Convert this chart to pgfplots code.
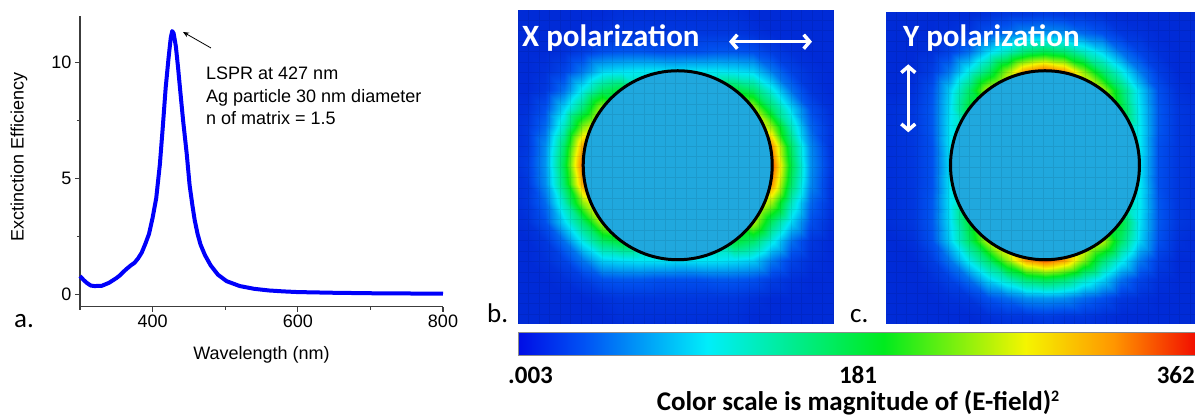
\documentclass[border=0pt]{standalone}
\usepackage{pgfplots}
\pgfplotsset{compat=1.18}
\usepackage{pgfplotstable}
\usepackage{fontspec}
\setmainfont{Liberation Sans}
\newfontfamily\calibri{Carlito}
\usetikzlibrary{arrows.meta}

\definecolor{axisgray}{RGB}{60,60,60}
\definecolor{insidecol}{RGB}{32,168,222}
\definecolor{curveblue}{RGB}{0,0,250}

\pgfplotsset{colormap={fieldjet}{rgb255(0cm)=(0,18,200); rgb255(10cm)=(0,80,238); rgb255(28cm)=(0,232,245); rgb255(54cm)=(0,235,30); rgb255(75cm)=(245,245,0); rgb255(88cm)=(255,150,0); rgb255(100cm)=(235,25,0)}}

\pgfdeclarehorizontalshading{cbar}{100bp}{rgb(0bp)=(0,0.05,0.9); rgb(25bp)=(0,0.05,0.9); rgb(30bp)=(0,0.33,0.96); rgb(39bp)=(0,0.933,0.98); rgb(52bp)=(0,0.92,0.118); rgb(62.5bp)=(0.96,0.96,0); rgb(69bp)=(1,0.588,0); rgb(75bp)=(0.95,0.06,0); rgb(100bp)=(0.95,0.06,0)}

\pgfplotstableread{
wl ext
300 0.79
305 0.62
310 0.48
315 0.38
320 0.36
330 0.37
340 0.50
350 0.70
355 0.82
360 0.98
365 1.12
370 1.25
375 1.36
380 1.55
385 1.80
390 2.18
395 2.60
400 3.30
405 4.15
410 5.60
414 7.20
418 8.90
422 10.20
425 11.05
427 11.35
429 11.25
432 10.70
435 9.80
438 8.80
442 7.50
447 6.06
451 4.70
455 3.80
458 3.20
462 2.60
466 2.15
472 1.70
480 1.25
490 0.85
502 0.57
520 0.36
540 0.24
560 0.17
580 0.13
600 0.10
650 0.07
700 0.05
750 0.04
800 0.03
}\spectab

\pgfplotstableread[row sep=\\]{
x y c\\
-1.8 -1.8 0.04\\-1.6 -1.8 0.04\\-1.4 -1.8 0.04\\-1.2 -1.8 0.04\\-1 -1.8 0.04\\-0.8 -1.8 0.04\\-0.6 -1.8 0.04\\-0.4 -1.8 0.04\\-0.2 -1.8 0.04\\0 -1.8 0.04\\0.2 -1.8 0.04\\0.4 -1.8 0.04\\0.6 -1.8 0.04\\0.8 -1.8 0.04\\1 -1.8 0.04\\1.2 -1.8 0.04\\1.4 -1.8 0.04\\1.6 -1.8 0.04\\1.8 -1.8 0.04\\
-1.8 -1.6 0.04\\-1.6 -1.6 0.04\\-1.4 -1.6 0.04\\-1.2 -1.6 0.04\\-1 -1.6 0.04\\-0.8 -1.6 0.04\\-0.6 -1.6 0.05\\-0.4 -1.6 0.05\\-0.2 -1.6 0.05\\0 -1.6 0.05\\0.2 -1.6 0.05\\0.4 -1.6 0.05\\0.6 -1.6 0.05\\0.8 -1.6 0.04\\1 -1.6 0.04\\1.2 -1.6 0.04\\1.4 -1.6 0.04\\1.6 -1.6 0.04\\1.8 -1.6 0.04\\
-1.8 -1.4 0.04\\-1.6 -1.4 0.04\\-1.4 -1.4 0.04\\-1.2 -1.4 0.04\\-1 -1.4 0.04\\-0.8 -1.4 0.05\\-0.6 -1.4 0.06\\-0.4 -1.4 0.06\\-0.2 -1.4 0.06\\0 -1.4 0.06\\0.2 -1.4 0.06\\0.4 -1.4 0.06\\0.6 -1.4 0.06\\0.8 -1.4 0.05\\1 -1.4 0.04\\1.2 -1.4 0.04\\1.4 -1.4 0.04\\1.6 -1.4 0.04\\1.8 -1.4 0.04\\
-1.8 -1.2 0.04\\-1.6 -1.2 0.04\\-1.4 -1.2 0.04\\-1.2 -1.2 0.05\\-1 -1.2 0.07\\-0.8 -1.2 0.10\\-0.6 -1.2 0.11\\-0.4 -1.2 0.11\\-0.2 -1.2 0.10\\0 -1.2 0.10\\0.2 -1.2 0.10\\0.4 -1.2 0.11\\0.6 -1.2 0.11\\0.8 -1.2 0.10\\1 -1.2 0.07\\1.2 -1.2 0.05\\1.4 -1.2 0.04\\1.6 -1.2 0.04\\1.8 -1.2 0.04\\
-1.8 -1 0.04\\-1.6 -1 0.04\\-1.4 -1 0.05\\-1.2 -1 0.08\\-1 -1 0.15\\-0.8 -1 0.25\\-0.6 -1 0.27\\-0.4 -1 0.28\\-0.2 -1 0.28\\0 -1 0.27\\0.2 -1 0.28\\0.4 -1 0.28\\0.6 -1 0.27\\0.8 -1 0.25\\1 -1 0.15\\1.2 -1 0.08\\1.4 -1 0.05\\1.6 -1 0.04\\1.8 -1 0.04\\
-1.8 -0.8 0.04\\-1.6 -0.8 0.04\\-1.4 -0.8 0.06\\-1.2 -0.8 0.14\\-1 -0.8 0.30\\-0.8 -0.8 0.45\\-0.6 -0.8 0.51\\-0.4 -0.8 0.40\\-0.2 -0.8 0.31\\0 -0.8 0.27\\0.2 -0.8 0.31\\0.4 -0.8 0.40\\0.6 -0.8 0.51\\0.8 -0.8 0.45\\1 -0.8 0.30\\1.2 -0.8 0.14\\1.4 -0.8 0.06\\1.6 -0.8 0.04\\1.8 -0.8 0.04\\
-1.8 -0.6 0.04\\-1.6 -0.6 0.05\\-1.4 -0.6 0.10\\-1.2 -0.6 0.26\\-1 -0.6 0.45\\-0.8 -0.6 0.70\\-0.6 -0.6 0.61\\-0.4 -0.6 0.48\\-0.2 -0.6 0.34\\0 -0.6 0.27\\0.2 -0.6 0.34\\0.4 -0.6 0.48\\0.6 -0.6 0.61\\0.8 -0.6 0.70\\1 -0.6 0.45\\1.2 -0.6 0.26\\1.4 -0.6 0.10\\1.6 -0.6 0.05\\1.8 -0.6 0.04\\
-1.8 -0.4 0.04\\-1.6 -0.4 0.06\\-1.4 -0.4 0.13\\-1.2 -0.4 0.35\\-1 -0.4 0.66\\-0.8 -0.4 0.81\\-0.6 -0.4 0.74\\-0.4 -0.4 0.61\\-0.2 -0.4 0.40\\0 -0.4 0.27\\0.2 -0.4 0.40\\0.4 -0.4 0.61\\0.6 -0.4 0.74\\0.8 -0.4 0.81\\1 -0.4 0.66\\1.2 -0.4 0.35\\1.4 -0.4 0.13\\1.6 -0.4 0.06\\1.8 -0.4 0.04\\
-1.8 -0.2 0.04\\-1.6 -0.2 0.06\\-1.4 -0.2 0.17\\-1.2 -0.2 0.45\\-1 -0.2 0.87\\-0.8 -0.2 0.91\\-0.6 -0.2 0.88\\-0.4 -0.2 0.81\\-0.2 -0.2 0.61\\0 -0.2 0.27\\0.2 -0.2 0.61\\0.4 -0.2 0.81\\0.6 -0.2 0.88\\0.8 -0.2 0.91\\1 -0.2 0.87\\1.2 -0.2 0.45\\1.4 -0.2 0.17\\1.6 -0.2 0.06\\1.8 -0.2 0.04\\
-1.8 0 0.04\\-1.6 0 0.07\\-1.4 0 0.18\\-1.2 0 0.49\\-1 0 0.95\\-0.8 0 0.95\\-0.6 0 0.95\\-0.4 0 0.95\\-0.2 0 0.95\\0 0 0.25\\0.2 0 0.95\\0.4 0 0.95\\0.6 0 0.95\\0.8 0 0.95\\1 0 0.95\\1.2 0 0.49\\1.4 0 0.18\\1.6 0 0.07\\1.8 0 0.04\\
-1.8 0.2 0.04\\-1.6 0.2 0.06\\-1.4 0.2 0.17\\-1.2 0.2 0.45\\-1 0.2 0.87\\-0.8 0.2 0.91\\-0.6 0.2 0.88\\-0.4 0.2 0.81\\-0.2 0.2 0.61\\0 0.2 0.27\\0.2 0.2 0.61\\0.4 0.2 0.81\\0.6 0.2 0.88\\0.8 0.2 0.91\\1 0.2 0.87\\1.2 0.2 0.45\\1.4 0.2 0.17\\1.6 0.2 0.06\\1.8 0.2 0.04\\
-1.8 0.4 0.04\\-1.6 0.4 0.06\\-1.4 0.4 0.13\\-1.2 0.4 0.35\\-1 0.4 0.66\\-0.8 0.4 0.81\\-0.6 0.4 0.74\\-0.4 0.4 0.61\\-0.2 0.4 0.40\\0 0.4 0.27\\0.2 0.4 0.40\\0.4 0.4 0.61\\0.6 0.4 0.74\\0.8 0.4 0.81\\1 0.4 0.66\\1.2 0.4 0.35\\1.4 0.4 0.13\\1.6 0.4 0.06\\1.8 0.4 0.04\\
-1.8 0.6 0.04\\-1.6 0.6 0.05\\-1.4 0.6 0.10\\-1.2 0.6 0.26\\-1 0.6 0.45\\-0.8 0.6 0.70\\-0.6 0.6 0.61\\-0.4 0.6 0.48\\-0.2 0.6 0.34\\0 0.6 0.27\\0.2 0.6 0.34\\0.4 0.6 0.48\\0.6 0.6 0.61\\0.8 0.6 0.70\\1 0.6 0.45\\1.2 0.6 0.26\\1.4 0.6 0.10\\1.6 0.6 0.05\\1.8 0.6 0.04\\
-1.8 0.8 0.04\\-1.6 0.8 0.04\\-1.4 0.8 0.06\\-1.2 0.8 0.14\\-1 0.8 0.30\\-0.8 0.8 0.45\\-0.6 0.8 0.51\\-0.4 0.8 0.40\\-0.2 0.8 0.31\\0 0.8 0.27\\0.2 0.8 0.31\\0.4 0.8 0.40\\0.6 0.8 0.51\\0.8 0.8 0.45\\1 0.8 0.30\\1.2 0.8 0.14\\1.4 0.8 0.06\\1.6 0.8 0.04\\1.8 0.8 0.04\\
-1.8 1 0.04\\-1.6 1 0.04\\-1.4 1 0.05\\-1.2 1 0.08\\-1 1 0.15\\-0.8 1 0.25\\-0.6 1 0.27\\-0.4 1 0.28\\-0.2 1 0.28\\0 1 0.27\\0.2 1 0.28\\0.4 1 0.28\\0.6 1 0.27\\0.8 1 0.25\\1 1 0.15\\1.2 1 0.08\\1.4 1 0.05\\1.6 1 0.04\\1.8 1 0.04\\
-1.8 1.2 0.04\\-1.6 1.2 0.04\\-1.4 1.2 0.04\\-1.2 1.2 0.05\\-1 1.2 0.07\\-0.8 1.2 0.10\\-0.6 1.2 0.11\\-0.4 1.2 0.11\\-0.2 1.2 0.10\\0 1.2 0.10\\0.2 1.2 0.10\\0.4 1.2 0.11\\0.6 1.2 0.11\\0.8 1.2 0.10\\1 1.2 0.07\\1.2 1.2 0.05\\1.4 1.2 0.04\\1.6 1.2 0.04\\1.8 1.2 0.04\\
-1.8 1.4 0.04\\-1.6 1.4 0.04\\-1.4 1.4 0.04\\-1.2 1.4 0.04\\-1 1.4 0.04\\-0.8 1.4 0.05\\-0.6 1.4 0.06\\-0.4 1.4 0.06\\-0.2 1.4 0.06\\0 1.4 0.06\\0.2 1.4 0.06\\0.4 1.4 0.06\\0.6 1.4 0.06\\0.8 1.4 0.05\\1 1.4 0.04\\1.2 1.4 0.04\\1.4 1.4 0.04\\1.6 1.4 0.04\\1.8 1.4 0.04\\
-1.8 1.6 0.04\\-1.6 1.6 0.04\\-1.4 1.6 0.04\\-1.2 1.6 0.04\\-1 1.6 0.04\\-0.8 1.6 0.04\\-0.6 1.6 0.05\\-0.4 1.6 0.05\\-0.2 1.6 0.05\\0 1.6 0.05\\0.2 1.6 0.05\\0.4 1.6 0.05\\0.6 1.6 0.05\\0.8 1.6 0.04\\1 1.6 0.04\\1.2 1.6 0.04\\1.4 1.6 0.04\\1.6 1.6 0.04\\1.8 1.6 0.04\\
-1.8 1.8 0.04\\-1.6 1.8 0.04\\-1.4 1.8 0.04\\-1.2 1.8 0.04\\-1 1.8 0.04\\-0.8 1.8 0.04\\-0.6 1.8 0.04\\-0.4 1.8 0.04\\-0.2 1.8 0.04\\0 1.8 0.04\\0.2 1.8 0.04\\0.4 1.8 0.04\\0.6 1.8 0.04\\0.8 1.8 0.04\\1 1.8 0.04\\1.2 1.8 0.04\\1.4 1.8 0.04\\1.6 1.8 0.04\\1.8 1.8 0.04\\
}\fieldtab

\begin{document}
\begin{tikzpicture}
\path[use as bounding box] (0,0) rectangle (1195bp,416bp);

% ---------- panel a: extinction spectrum ----------
\begin{axis}[
  at={(80bp,109.3bp)}, anchor=south west,
  scale only axis, width=363bp, height=290.7bp,
  xmin=300, xmax=800, ymin=-0.53, ymax=12,
  axis x line*=bottom, axis y line*=left,
  xtick={400,600,800}, ytick={0,5,10},
  minor xtick={300,500,700}, minor ytick={2.5,7.5},
  tick align=outside,
  major tick length=5bp, minor tick length=3bp,
  every tick/.style={line width=1.2bp, color=axisgray},
  axis line style={line width=1.3bp, color=axisgray},
  /pgf/number format/assume math mode=true,
  tick label style={font=\fontsize{18bp}{20bp}\selectfont, text=black},
  xlabel={Wavelength (nm)}, ylabel={Exctinction Efficiency},
  label style={font=\fontsize{18bp}{20bp}\selectfont},
  xlabel style={at={(axis description cs:0.5,-0.166)}, anchor=center},
  ylabel style={at={(axis description cs:-0.168,0.516)}, anchor=center},
  clip=false,
]
\addplot[curveblue, line width=4bp, line join=round] table[x=wl, y=ext] {\spectab};
\end{axis}

\draw[-{Stealth[length=6bp,width=5bp]}, line width=0.8bp] (211bp,368bp) -- (183bp,384bp);
\begin{scope}[every node/.style={inner sep=0pt, anchor=base west, font=\fontsize{18bp}{20bp}\selectfont}]
\node at (206bp,336.5bp) {LSPR at 427 nm};
\node at (206bp,313.5bp) {Ag particle 30 nm diameter};
\node at (206bp,291.5bp) {n of matrix = 1.5};
\end{scope}

% ---------- panel b: X polarization ----------
\begin{axis}[
  at={(518bp,92bp)}, anchor=south west,
  x=94.5bp, y=94.5bp,
  xmin=-1.69, xmax=1.65, ymin=-1.68, ymax=1.64,
  hide axis, colormap name=fieldjet,
  point meta min=0, point meta max=1,
]
\addplot[surf, shader=interp, mesh/rows=19, mesh/cols=19, point meta=explicit]
  table[x=x, y=y, meta=c] {\fieldtab};
\draw[line width=3bp, fill=insidecol] (axis cs:0,0) circle[radius=94.5bp];
\draw[black, opacity=0.08, line width=0.7bp, step=10.5bp] (axis cs:-1.69,-1.68) grid (axis cs:1.65,1.64);
\end{axis}

% ---------- panel c: Y polarization ----------
\begin{axis}[
  at={(886.7bp,92bp)}, anchor=south west,
  x=94.5bp, y=94.5bp,
  xmin=-1.675, xmax=1.587, ymin=-1.68, ymax=1.62,
  hide axis, colormap name=fieldjet,
  point meta min=0, point meta max=1,
]
\addplot[surf, shader=interp, mesh/rows=19, mesh/cols=19, mesh/ordering=y varies, point meta=explicit]
  table[x=y, y=x, meta=c] {\fieldtab};
\draw[line width=3bp, fill=insidecol] (axis cs:0,0) circle[radius=94.5bp];
\draw[black, opacity=0.08, line width=0.7bp, step=10.5bp] (axis cs:-1.675,-1.68) grid (axis cs:1.587,1.62);
\end{axis}

% panel texts
\node[inner sep=0pt, anchor=base west, text=white, font=\calibri\bfseries\fontsize{31bp}{33bp}\selectfont] at (522bp,369.3bp) {X polarization};
\node[inner sep=0pt, anchor=base west, text=white, font=\calibri\bfseries\fontsize{31bp}{33bp}\selectfont] at (903bp,369.3bp) {Y polarization};
\draw[white, line width=3.5bp, {Straight Barb[length=6bp,width=14bp]}-{Straight Barb[length=6bp,width=14bp]}] (729bp,374.3bp) -- (812bp,374.3bp);
\draw[white, line width=3.5bp, {Straight Barb[length=6bp,width=14bp]}-{Straight Barb[length=6bp,width=14bp]}] (908.3bp,351.7bp) -- (908.3bp,283.7bp);

% panel letters
\begin{scope}[every node/.style={inner sep=0pt, anchor=base west, font=\calibri\fontsize{27bp}{30bp}\selectfont}]
\node at (14bp,88bp) {a.};
\node at (487bp,93bp) {b.};
\node at (850bp,93bp) {c.};
\end{scope}

% colour bar
\shade[shading=cbar] (518bp,61bp) rectangle (1195bp,83.7bp);
\draw[black!45, line width=0.6bp] (518bp,61bp) rectangle (1195bp,83.7bp);
\begin{scope}[every node/.style={inner sep=0pt, font=\calibri\bfseries\fontsize{25bp}{28bp}\selectfont}]
\node[anchor=base west] at (508bp,32.5bp) {.003};
\node[anchor=base] at (858bp,32.5bp) {181};
\node[anchor=base east] at (1195bp,32.5bp) {362};
\node[anchor=base, font=\calibri\bfseries\fontsize{27bp}{28bp}\selectfont] at (858bp,6bp) {Color scale is magnitude of (E-field)\raisebox{9bp}{\fontsize{16bp}{16bp}\selectfont 2}};
\end{scope}
\end{tikzpicture}
\end{document}
